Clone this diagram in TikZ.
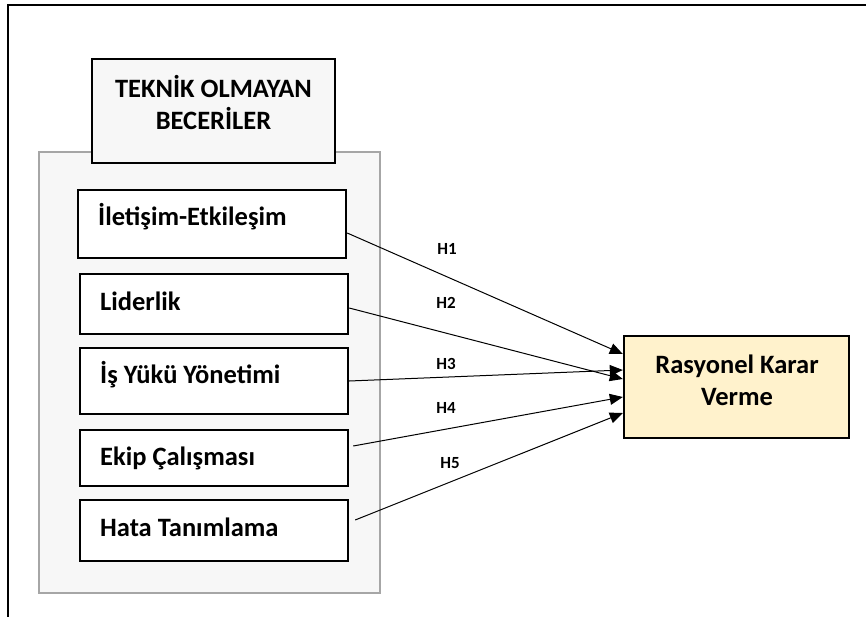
\documentclass[tikz,border=0pt]{standalone}
\usepackage{fontspec}
\setmainfont{Carlito}
\usetikzlibrary{arrows.meta}
\definecolor{panelgray}{HTML}{F7F7F7}
\definecolor{paneledge}{HTML}{A6A6A6}
\definecolor{targetfill}{HTML}{FFF2CC}
\begin{document}
\begin{tikzpicture}[x=1pt,y=-1pt,
  txt/.style={font=\fontsize{26.5}{32}\selectfont\bfseries, inner sep=0pt},
  hlbl/.style={font=\fontsize{17}{20}\selectfont\bfseries, inner sep=0pt},
  itembox/.style={draw=black, line width=2.4pt, fill=white, minimum width=268pt, inner sep=0pt},
  conn/.style={line width=1pt, -{Triangle[length=13pt,width=11pt]}}
]
\useasboundingbox (0,0) rectangle (866,617);
\fill[white] (0,0) rectangle (866,617);
\draw[line width=2pt] (7.5,617) -- (7.5,5) -- (866,5);

% container
\node[draw=paneledge, fill=panelgray, line width=2.2pt, minimum width=341pt, minimum height=441pt, inner sep=0pt] (panel) at (209.5,372.5) {};

% title
\node[draw=black, fill=panelgray, line width=2.4pt, minimum width=243pt, minimum height=104pt, inner sep=0pt] (title) at (213.5,111) {};
\node[txt, anchor=base] (t1) at (213.5,98) {TEKNİK OLMAYAN};
\node[txt, anchor=base] (t2) at (213.5,130) {BECERİLER};

% items
\node[itembox, minimum height=68pt] (b1) at (212,224) {};
\node[txt, anchor=base west] (l1) at (98,226) {İletişim-Etkileşim};
\node[itembox, minimum height=60pt] (b2) at (214,304) {};
\node[txt, anchor=base west] (l2) at (100,310) {Liderlik};
\node[itembox, minimum height=66pt] (b3) at (214,381) {};
\node[txt, anchor=base west] (l3) at (100,383) {İş Yükü Yönetimi};
\node[itembox, minimum height=56pt] (b4) at (214,458) {};
\node[txt, anchor=base west] (l4) at (100,465) {Ekip Çalışması};
\node[itembox, minimum height=61pt] (b5) at (214,530.5) {};
\node[txt, anchor=base west] (l5) at (100,536) {Hata Tanımlama};

% target
\node[draw=black, fill=targetfill, line width=2.4pt, minimum width=225pt, minimum height=102pt, inner sep=0pt] (tgt) at (736.5,387) {};
\node[txt, anchor=base] (r1) at (737,373) {Rasyonel Karar};
\node[txt, anchor=base] (r2) at (737,405) {Verme};

% connectors
\draw[conn] ([yshift=-9pt]b1.east) -- ([yshift=33pt]tgt.west);
\draw[conn] ([yshift=-4pt]b2.east) -- ([yshift=8pt]tgt.west);
\draw[conn] (b3.east) -- ([yshift=17pt]tgt.west);
\draw[conn] ([xshift=4pt,yshift=12pt]b4.east) -- ([yshift=-10pt]tgt.west);
\draw[conn] ([xshift=6pt,yshift=10.5pt]b5.east) -- ([yshift=-26pt]tgt.west);

% labels
\node[hlbl] (h1) at (447,249) {H1};
\node[hlbl] (h2) at (446,303) {H2};
\node[hlbl] (h3) at (446,364) {H3};
\node[hlbl] (h4) at (446,408) {H4};
\node[hlbl] (h5) at (450,463) {H5};
\end{tikzpicture}
\end{document}
